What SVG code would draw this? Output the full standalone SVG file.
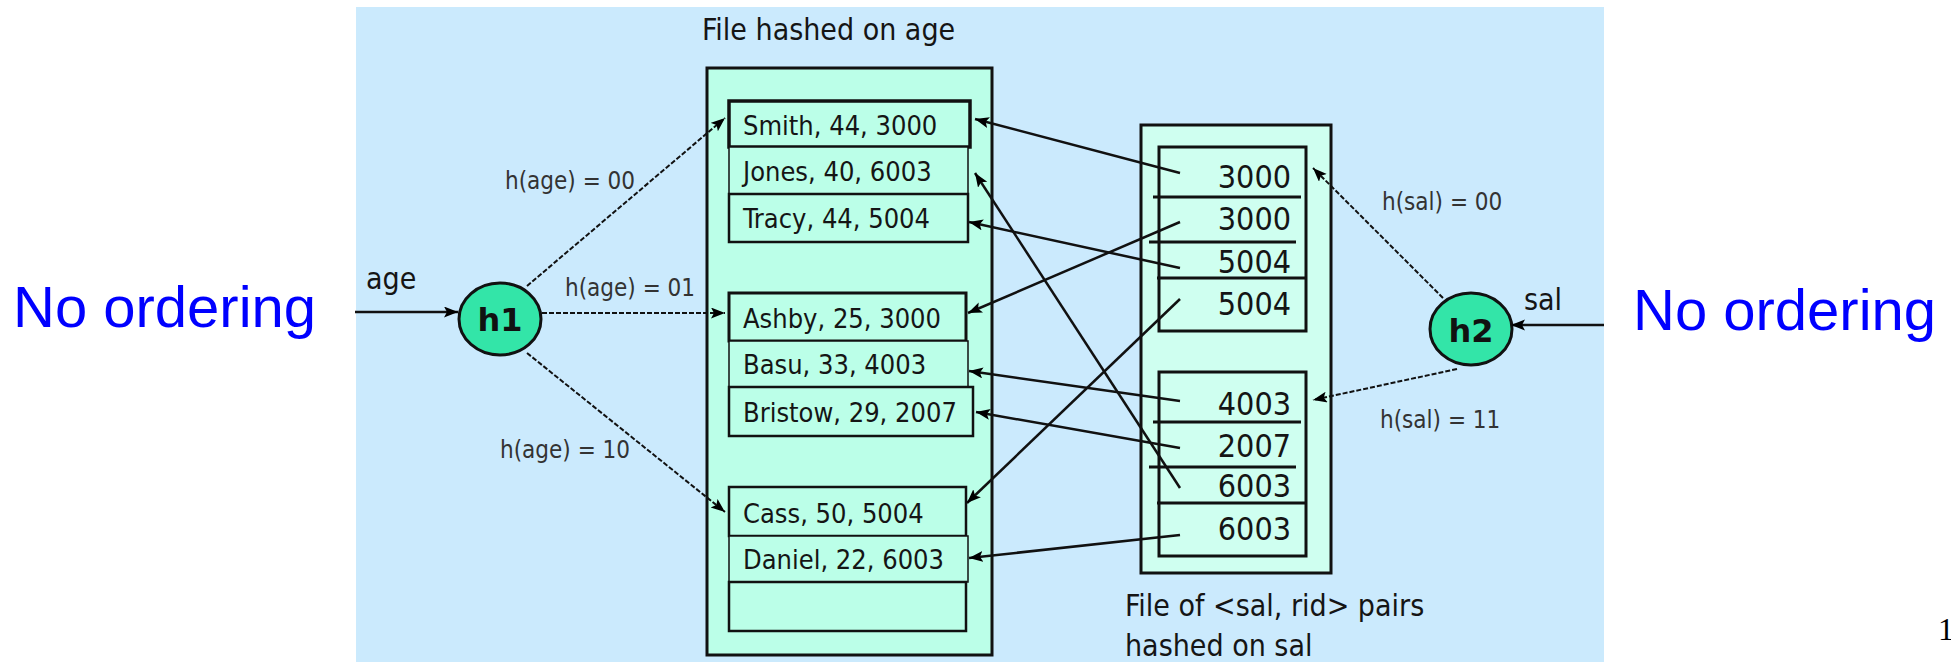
<svg xmlns="http://www.w3.org/2000/svg" width="1951" height="662" viewBox="0 0 1951 662">
  <defs>
    <marker id="arrow" markerUnits="userSpaceOnUse" markerWidth="15" markerHeight="12" refX="14" refY="5.5" orient="auto">
      <path d="M0,0 L14,5.5 L0,11 L3,5.5 z" fill="#000"/>
    </marker>
    <style>
      .panel { fill: #cbeafd; }
      .file-age { fill: #bbffe8; stroke: #111; stroke-width: 3; }
      .file-sal { fill: #cffff0; stroke: #111; stroke-width: 3; }
      .rec { fill: #bbffe8; stroke: #111; }
      .rec-sal { fill: none; stroke: #111; stroke-width: 3; }
      .div { stroke: #111; stroke-width: 3; }
      .rtext { font-family: "DejaVu Sans Condensed", "DejaVu Sans", sans-serif; font-size: 27px; fill: #151515; }
      .stext { font-family: "DejaVu Sans Condensed", "DejaVu Sans", sans-serif; font-size: 32px; fill: #151515; text-anchor: end; }
      .cap { font-family: "DejaVu Sans Condensed", "DejaVu Sans", sans-serif; font-size: 30px; fill: #151515; }
      .lbl { font-family: "DejaVu Sans Condensed", "DejaVu Sans", sans-serif; font-size: 24px; fill: #333; }
      .hash { fill: #33e5a8; stroke: #111; stroke-width: 3; }
      .htext { font-family: "DejaVu Sans", sans-serif; font-weight: bold; font-size: 32px; fill: #111; text-anchor: middle; }
      .note { font-family: "Liberation Sans", Arial, sans-serif; font-size: 58px; fill: #0000ff; }
      .ptr { stroke: #111; stroke-width: 2.5; fill: none; marker-end: url(#arrow); }
      .hline { stroke: #111; stroke-width: 2; fill: none; stroke-dasharray: 5 2; marker-end: url(#arrow); }
      .in { stroke: #111; stroke-width: 2.5; fill: none; marker-end: url(#arrow); }
    </style>
  </defs>

  <!-- background panel -->
  <rect class="panel" x="356" y="7" width="1248" height="655"/>

  <!-- side notes -->
  <text class="note" x="13" y="327">No ordering</text>
  <text class="note" x="1633" y="330">No ordering</text>
  <text x="1938" y="640" font-family="Liberation Serif, serif" font-size="32" fill="#000">1</text>

  <!-- data file hashed on age -->
  <g id="age-file">
    <text class="cap" x="702" y="40">File hashed on age</text>
    <rect class="file-age" x="707" y="68" width="285" height="587"/>
    <g id="rec-smith"><rect class="rec" x="729" y="101" width="241" height="46" stroke-width="3.5"/><text class="rtext" x="743" y="135">Smith, 44, 3000</text></g>
    <g id="rec-jones"><rect class="rec" x="729" y="147" width="239" height="47" stroke-width="1.5"/><text class="rtext" x="743" y="181">Jones, 40, 6003</text></g>
    <g id="rec-tracy"><rect class="rec" x="729" y="194" width="239" height="48" stroke-width="2.5"/><text class="rtext" x="743" y="228">Tracy, 44, 5004</text></g>
    <g id="rec-ashby"><rect class="rec" x="729" y="293" width="237" height="48" stroke-width="3"/><text class="rtext" x="743" y="328">Ashby, 25, 3000</text></g>
    <g id="rec-basu"><rect class="rec" x="729" y="341" width="239" height="46" stroke-width="1.5"/><text class="rtext" x="743" y="374">Basu, 33, 4003</text></g>
    <g id="rec-bristow"><rect class="rec" x="729" y="387" width="244" height="49" stroke-width="2.5"/><text class="rtext" x="743" y="422">Bristow, 29, 2007</text></g>
    <g id="rec-cass"><rect class="rec" x="729" y="487" width="237" height="49" stroke-width="2.5"/><text class="rtext" x="743" y="523">Cass, 50, 5004</text></g>
    <g id="rec-daniel"><rect class="rec" x="729" y="536" width="239" height="46" stroke-width="1.5"/><text class="rtext" x="743" y="569">Daniel, 22, 6003</text></g>
    <g id="rec-empty"><rect class="rec" x="729" y="582" width="237" height="49" stroke-width="2.5"/></g>
  </g>

  <!-- index file of <sal, rid> pairs -->
  <g id="sal-file">
    <rect class="file-sal" x="1141" y="125" width="190" height="448"/>
    <g id="bucket-00">
      <rect class="rec-sal" x="1159" y="147" width="147" height="184"/>
      <line class="div" x1="1153" y1="197" x2="1301" y2="197"/>
      <line class="div" x1="1149" y1="242" x2="1296" y2="242"/>
      <line class="div" x1="1157" y1="278" x2="1306" y2="278"/>
      <text class="stext" x="1291" y="188">3000</text>
      <text class="stext" x="1291" y="230">3000</text>
      <text class="stext" x="1291" y="273">5004</text>
      <text class="stext" x="1291" y="315">5004</text>
    </g>
    <g id="bucket-11">
      <rect class="rec-sal" x="1159" y="372" width="147" height="184"/>
      <line class="div" x1="1153" y1="422" x2="1301" y2="422"/>
      <line class="div" x1="1149" y1="467" x2="1296" y2="467"/>
      <line class="div" x1="1157" y1="503" x2="1306" y2="503"/>
      <text class="stext" x="1291" y="415">4003</text>
      <text class="stext" x="1291" y="457">2007</text>
      <text class="stext" x="1291" y="497">6003</text>
      <text class="stext" x="1291" y="540">6003</text>
    </g>
    <text class="cap" x="1125" y="616">File of &lt;sal, rid&gt; pairs</text>
    <text class="cap" x="1125" y="656">hashed on sal</text>
  </g>

  <!-- hash function nodes -->
  <g id="h1">
    <ellipse class="hash" cx="500" cy="319" rx="41" ry="36"/>
    <text class="htext" x="500" y="331">h1</text>
  </g>
  <g id="h2">
    <ellipse class="hash" cx="1471" cy="329" rx="41" ry="36"/>
    <text class="htext" x="1471" y="342">h2</text>
  </g>

  <!-- connectors -->
  <g id="connectors">
    <!-- search keys into the hash functions -->
    <line class="in" x1="355" y1="312" x2="458" y2="312"/>
    <text class="cap" x="366" y="289">age</text>
    <line class="in" x1="1604" y1="325" x2="1511" y2="325"/>
    <text class="cap" x="1524" y="310">sal</text>

    <!-- h1 buckets -->
    <line class="hline" x1="527" y1="286" x2="725" y2="118"/>
    <text class="lbl" x="505" y="189">h(age) = 00</text>
    <line class="hline" x1="542" y1="313" x2="725" y2="313"/>
    <text class="lbl" x="565" y="296">h(age) = 01</text>
    <line class="hline" x1="527" y1="353" x2="725" y2="512"/>
    <text class="lbl" x="500" y="458">h(age) = 10</text>

    <!-- h2 buckets -->
    <line class="hline" x1="1443" y1="298" x2="1313" y2="168"/>
    <text class="lbl" x="1382" y="210">h(sal) = 00</text>
    <line class="hline" x1="1457" y1="369" x2="1313" y2="400"/>
    <text class="lbl" x="1380" y="428">h(sal) = 11</text>

    <!-- rid pointers into the data file -->
    <line class="ptr" x1="1180" y1="173" x2="975" y2="119"/>
    <line class="ptr" x1="1180" y1="222" x2="968" y2="313"/>
    <line class="ptr" x1="1180" y1="268" x2="969" y2="222"/>
    <line class="ptr" x1="1180" y1="299" x2="967" y2="503"/>
    <line class="ptr" x1="1180" y1="401" x2="969" y2="371"/>
    <line class="ptr" x1="1180" y1="448" x2="976" y2="412"/>
    <line class="ptr" x1="1180" y1="488" x2="975" y2="173"/>
    <line class="ptr" x1="1180" y1="535" x2="969" y2="558"/>
  </g>
</svg>
